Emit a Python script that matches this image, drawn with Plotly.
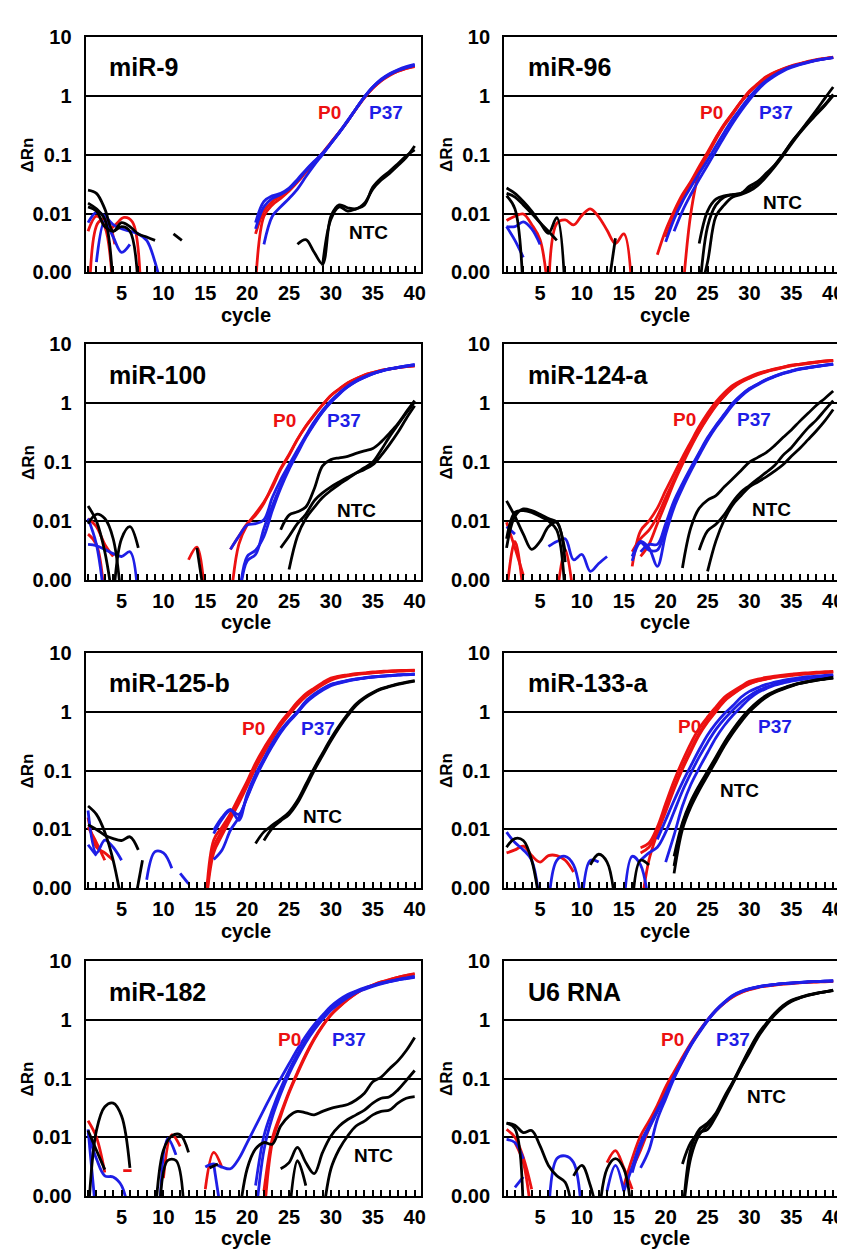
import math
import plotly.graph_objects as go

# ---------------- data ----------------
# each curve: (first cycle, [dRn values at consecutive cycles])
PANELS = ["miR-9", "miR-96", "miR-100", "miR-124-a", "miR-125-b", "miR-133-a", "miR-182", "U6 RNA"]
Y_TICKS = [10, 1, 0.1, 0.01, 0.001]
Y_TICK_TEXT = ["10", "1", "0.1", "0.01", "0.00"]

mir9_p0 = [
    (21, [0.0006, 0.009, 0.014, 0.018, 0.024, 0.034, 0.05, 0.072, 0.105, 0.16, 0.24, 0.37, 0.6, 0.93, 1.35, 1.8, 2.25, 2.6, 2.9, 3.1]),
    (21, [0.0045, 0.011, 0.016, 0.02, 0.026, 0.036, 0.052, 0.074, 0.107, 0.16, 0.24, 0.37, 0.59, 0.92, 1.33, 1.78, 2.2, 2.6, 2.9, 3.2]),
    (1, [0.005, 0.009, 0.006, 0.0004]),
    (1.2, [0.0006, 0.007, 0.008, 0.003]),
    (3.3, [0.0048, 0.0065, 0.0086, 0.0072, 0.0004]),
]
mir9_p37 = [
    (21, [0.007, 0.016, 0.02, 0.022, 0.027, 0.038, 0.055, 0.077, 0.105, 0.155, 0.235, 0.37, 0.6, 0.95, 1.4, 1.85, 2.3, 2.7, 3.0, 3.3]),
    (21, [0.0055, 0.013, 0.018, 0.021, 0.026, 0.036, 0.053, 0.075, 0.104, 0.155, 0.235, 0.37, 0.6, 0.94, 1.38, 1.83, 2.28, 2.68, 3.0, 3.3]),
    (22, [0.003, 0.009, 0.013, 0.018, 0.026, 0.042, 0.066, 0.1, 0.155, 0.24, 0.38, 0.6, 0.95, 1.4, 1.9, 2.35, 2.75, 3.1, 3.4]),
    (1, [0.007, 0.0105, 0.009, 0.0065, 0.0055, 0.005, 0.0045, 0.0035, 0.0015, 0.0004]),
    (2, [0.0015, 0.0075, 0.004, 0.0022, 0.003]),
]
mir9_ntc = [
    (26, [0.003, 0.0036, 0.0022, 0.0014, 0.009, 0.014, 0.0125, 0.012, 0.015, 0.026, 0.037, 0.048, 0.065, 0.09, 0.14]),
    (29, [0.0013, 0.008, 0.013, 0.011, 0.012, 0.014, 0.028, 0.04, 0.052, 0.07, 0.095, 0.12]),
    (1, [0.025, 0.022, 0.012, 0.005, 0.007, 0.006, 0.0045, 0.004, 0.0035]),
    (1, [0.015, 0.012, 0.008, 0.0005]),
    (1, [0.013, 0.011, 0.006, 0.005, 0.006, 0.005, 0.0005]),
    (11.2, [0.0045, 0.0035]),
]

mir96_p0 = [
    (19, [0.002, 0.0052, 0.011, 0.021, 0.035, 0.063, 0.11, 0.195, 0.33, 0.51, 0.8, 1.2, 1.6, 2.1, 2.5, 2.85, 3.2, 3.5, 3.8, 4.1, 4.3, 4.5]),
    (20, [0.004, 0.009, 0.018, 0.032, 0.058, 0.1, 0.18, 0.31, 0.49, 0.78, 1.15, 1.55, 2.05, 2.45, 2.8, 3.15, 3.45, 3.75, 4.0, 4.25, 4.45]),
    (22, [0.0004, 0.01, 0.05, 0.1, 0.19, 0.32, 0.5, 0.78, 1.15, 1.55, 2.0, 2.4, 2.8, 3.15, 3.45, 3.75, 4.0, 4.25, 4.45]),
    (1, [0.0076, 0.009, 0.0098, 0.0065, 0.0036, 0.0004]),
    (6, [0.0004, 0.0068, 0.0078, 0.0064, 0.0093, 0.012, 0.0088, 0.0052, 0.0031, 0.0045, 0.0004]),
]
mir96_p37 = [
    (20, [0.0033, 0.008, 0.016, 0.028, 0.048, 0.08, 0.14, 0.24, 0.4, 0.62, 0.95, 1.35, 1.8, 2.25, 2.7, 3.1, 3.4, 3.7, 4.0, 4.2, 4.4]),
    (21, [0.005, 0.011, 0.021, 0.038, 0.066, 0.115, 0.2, 0.34, 0.55, 0.85, 1.25, 1.7, 2.15, 2.6, 3.0, 3.35, 3.65, 3.95, 4.2, 4.4]),
    (1, [0.006, 0.006, 0.0072, 0.0055, 0.003]),
    (1, [0.006, 0.0035, 0.0018]),
]
mir96_ntc = [
    (24, [0.0031, 0.011, 0.0175, 0.02, 0.021, 0.022, 0.029, 0.035, 0.048, 0.066, 0.1, 0.16, 0.24, 0.37, 0.57, 0.9, 1.4]),
    (24, [0.0004, 0.006, 0.014, 0.019, 0.021, 0.022, 0.026, 0.032, 0.045, 0.065, 0.1, 0.16, 0.24, 0.35, 0.5, 0.7, 1.05]),
    (24, [0.0004, 0.0015, 0.009, 0.014, 0.019, 0.021, 0.024, 0.03, 0.042, 0.062, 0.095, 0.15, 0.23, 0.34, 0.48, 0.68, 1.0]),
    (1, [0.027, 0.022, 0.016, 0.011, 0.007, 0.0046, 0.0085, 0.0004]),
    (1, [0.02, 0.012, 0.0004]),
    (1, [0.022, 0.019, 0.014, 0.01, 0.007, 0.005, 0.0035]),
    (13, [0.0004, 0.0038]),
]

mir100_p0 = [
    (18, [0.0004, 0.004, 0.0086, 0.0134, 0.021, 0.037, 0.075, 0.13, 0.24, 0.4, 0.62, 0.93, 1.35, 1.73, 2.2, 2.6, 3.0, 3.3, 3.6, 3.8, 4.0, 4.15, 4.3]),
    (18, [0.0033, 0.0055, 0.009, 0.0125, 0.02, 0.04, 0.078, 0.135, 0.245, 0.41, 0.63, 0.94, 1.35, 1.75, 2.2, 2.6, 3.0, 3.3, 3.6, 3.8, 4.0, 4.15, 4.3]),
    (1, [0.011, 0.008, 0.004, 0.0025]),
    (1, [0.006, 0.004, 0.0004]),
    (13, [0.0022, 0.0036, 0.0004]),
]
mir100_p37 = [
    (18, [0.0033, 0.0055, 0.0085, 0.009, 0.0105, 0.025, 0.05, 0.09, 0.16, 0.28, 0.48, 0.75, 1.1, 1.5, 1.95, 2.4, 2.8, 3.2, 3.5, 3.8, 4.0, 4.2, 4.4]),
    (19, [0.0004, 0.0021, 0.0027, 0.0075, 0.018, 0.04, 0.08, 0.15, 0.27, 0.45, 0.72, 1.05, 1.45, 1.9, 2.35, 2.75, 3.15, 3.5, 3.8, 4.05, 4.3, 4.5]),
    (19, [0.0004, 0.0025, 0.0032, 0.0055, 0.015, 0.036, 0.075, 0.14, 0.26, 0.44, 0.7, 1.03, 1.42, 1.88, 2.33, 2.73, 3.13, 3.48, 3.78, 4.03, 4.28, 4.48]),
    (1, [0.011, 0.004, 0.0004]),
    (1, [0.004, 0.0038, 0.0033, 0.0028, 0.0025, 0.003, 0.0004]),
]
mir100_ntc = [
    (24, [0.0071, 0.0126, 0.0143, 0.0173, 0.035, 0.086, 0.11, 0.118, 0.125, 0.14, 0.155, 0.17, 0.22, 0.31, 0.45, 0.71, 1.1]),
    (24, [0.0035, 0.0055, 0.009, 0.013, 0.022, 0.03, 0.038, 0.046, 0.055, 0.065, 0.075, 0.09, 0.13, 0.2, 0.32, 0.55, 0.9]),
    (25, [0.0015, 0.0055, 0.011, 0.017, 0.025, 0.033, 0.042, 0.052, 0.065, 0.08, 0.1, 0.16, 0.27, 0.43, 0.68, 1.05]),
    (1, [0.018, 0.01, 0.003, 0.0004]),
    (1, [0.009, 0.013, 0.011, 0.005, 0.0004]),
    (4, [0.0004, 0.005, 0.008, 0.0035]),
    (14, [0.0035, 0.0004]),
]

mir124_p0 = [
    (16, [0.0017, 0.0068, 0.01, 0.0165, 0.033, 0.063, 0.12, 0.22, 0.4, 0.67, 1.05, 1.5, 2.0, 2.4, 2.8, 3.2, 3.5, 3.8, 4.1, 4.4, 4.6, 4.8, 5.0, 5.2, 5.3]),
    (16, [0.003, 0.005, 0.007, 0.012, 0.025, 0.05, 0.1, 0.19, 0.34, 0.58, 0.92, 1.35, 1.85, 2.3, 2.7, 3.1, 3.45, 3.75, 4.05, 4.35, 4.55, 4.75, 4.95, 5.15, 5.3]),
    (17, [0.0025, 0.004, 0.009, 0.02, 0.045, 0.092, 0.18, 0.33, 0.56, 0.9, 1.32, 1.8, 2.25, 2.65, 3.05, 3.4, 3.7, 4.0, 4.3, 4.5, 4.7, 4.9, 5.1, 5.25]),
    (1, [0.0006, 0.0045, 0.0006]),
    (1, [0.0095, 0.0035, 0.0012]),
    (7, [0.0005, 0.0033, 0.0005]),
]
mir124_p37 = [
    (16, [0.0021, 0.0043, 0.0032, 0.0032, 0.0077, 0.02, 0.04, 0.076, 0.14, 0.25, 0.41, 0.63, 0.98, 1.35, 1.75, 2.1, 2.5, 2.85, 3.2, 3.5, 3.8, 4.0, 4.2, 4.4, 4.6]),
    (16, [0.0025, 0.0045, 0.0035, 0.0017, 0.006, 0.017, 0.036, 0.07, 0.13, 0.235, 0.39, 0.6, 0.93, 1.3, 1.7, 2.05, 2.45, 2.8, 3.15, 3.45, 3.75, 3.95, 4.15, 4.35, 4.55]),
    (17, [0.003, 0.004, 0.004, 0.009, 0.022, 0.043, 0.08, 0.145, 0.26, 0.42, 0.65, 1.0, 1.37, 1.77, 2.12, 2.52, 2.87, 3.22, 3.52, 3.82, 4.02, 4.22, 4.42, 4.62]),
    (1, [0.008, 0.006]),
    (6, [0.0037, 0.0045, 0.005, 0.0022, 0.0027, 0.0014, 0.0019, 0.0025]),
]
mir124_ntc = [
    (22, [0.0016, 0.0077, 0.0165, 0.0227, 0.027, 0.038, 0.052, 0.072, 0.1, 0.12, 0.145, 0.19, 0.26, 0.35, 0.49, 0.67, 0.92, 1.2, 1.6]),
    (24, [0.0032, 0.0068, 0.0088, 0.0128, 0.021, 0.031, 0.04, 0.052, 0.067, 0.087, 0.13, 0.175, 0.26, 0.38, 0.52, 0.76, 1.1]),
    (25, [0.0014, 0.0046, 0.0105, 0.0188, 0.027, 0.038, 0.046, 0.056, 0.07, 0.09, 0.125, 0.17, 0.24, 0.34, 0.5, 0.78]),
    (1, [0.022, 0.012, 0.006, 0.0033, 0.0045, 0.008, 0.0095, 0.002]),
    (1, [0.0035, 0.012, 0.016, 0.015, 0.013, 0.011, 0.0095, 0.003]),
    (1, [0.005, 0.014, 0.015, 0.014, 0.012, 0.01, 0.007, 0.0005]),
]

mir125_p0 = [
    (15, [0.0004, 0.0066, 0.011, 0.0185, 0.035, 0.066, 0.134, 0.24, 0.4, 0.66, 0.98, 1.45, 2.0, 2.5, 3.1, 3.7, 4.0, 4.2, 4.4, 4.55, 4.7, 4.8, 4.9, 4.95, 5.0, 5.05]),
    (15, [0.0004, 0.004, 0.008, 0.015, 0.028, 0.055, 0.11, 0.2, 0.35, 0.58, 0.88, 1.3, 1.8, 2.3, 2.85, 3.4, 3.8, 4.05, 4.25, 4.4, 4.55, 4.65, 4.75, 4.85, 4.9, 4.95]),
    (15, [0.0004, 0.005, 0.0095, 0.017, 0.032, 0.06, 0.12, 0.22, 0.37, 0.62, 0.93, 1.38, 1.9, 2.4, 2.95, 3.55, 3.9, 4.1, 4.3, 4.45, 4.6, 4.7, 4.8, 4.9, 4.95, 5.0]),
    (1, [0.016, 0.005, 0.004, 0.003]),
    (1, [0.011, 0.006, 0.003]),
]
mir125_p37 = [
    (16, [0.0097, 0.016, 0.022, 0.0143, 0.04, 0.086, 0.16, 0.29, 0.48, 0.71, 1.0, 1.5, 1.97, 2.45, 2.9, 3.15, 3.4, 3.6, 3.75, 3.9, 4.0, 4.1, 4.2, 4.25, 4.3]),
    (16, [0.0031, 0.0045, 0.0097, 0.016, 0.035, 0.075, 0.145, 0.26, 0.44, 0.67, 0.95, 1.4, 1.85, 2.3, 2.75, 3.05, 3.3, 3.5, 3.68, 3.83, 3.95, 4.05, 4.15, 4.22, 4.3]),
    (16, [0.0085, 0.015, 0.021, 0.018, 0.036, 0.08, 0.15, 0.275, 0.46, 0.69, 0.98, 1.45, 1.92, 2.4, 2.85, 3.1, 3.35, 3.55, 3.7, 3.85, 3.98, 4.08, 4.18, 4.25, 4.32]),
    (1, [0.021, 0.004, 0.0066, 0.005, 0.003]),
    (1, [0.0055, 0.0036]),
    (8, [0.0014, 0.0042, 0.004, 0.0022]),
    (12, [0.0018, 0.0012]),
]
mir125_ntc = [
    (21, [0.0058, 0.0091, 0.0118, 0.015, 0.0197, 0.031, 0.058, 0.11, 0.197, 0.35, 0.58, 0.91, 1.34, 1.74, 2.1, 2.45, 2.7, 2.95, 3.15, 3.35]),
    (22, [0.0065, 0.0105, 0.014, 0.018, 0.028, 0.052, 0.1, 0.18, 0.32, 0.54, 0.85, 1.27, 1.68, 2.05, 2.4, 2.65, 2.9, 3.1, 3.3]),
    (1, [0.025, 0.018, 0.009, 0.003, 0.0006]),
    (1, [0.012, 0.01, 0.008, 0.007, 0.0065, 0.0075, 0.0045]),
    (6.5, [0.0005, 0.003]),
]

mir133_p0 = [
    (17, [0.0049, 0.0059, 0.011, 0.0275, 0.067, 0.145, 0.29, 0.52, 0.81, 1.2, 1.75, 2.2, 2.7, 3.25, 3.55, 3.8, 4.0, 4.15, 4.3, 4.45, 4.55, 4.65, 4.75, 4.8]),
    (17, [0.004, 0.005, 0.009, 0.022, 0.052, 0.115, 0.23, 0.43, 0.7, 1.05, 1.55, 2.0, 2.5, 3.0, 3.35, 3.6, 3.85, 4.0, 4.15, 4.3, 4.42, 4.52, 4.62, 4.7]),
    (17, [0.0004, 0.003, 0.0085, 0.02, 0.048, 0.105, 0.21, 0.4, 0.66, 1.0, 1.5, 1.95, 2.45, 2.95, 3.3, 3.55, 3.8, 3.95, 4.1, 4.25, 4.38, 4.5, 4.6, 4.68]),
    (1, [0.004, 0.0045, 0.0052, 0.0036, 0.0028, 0.0036, 0.0036, 0.003, 0.0019]),
]
mir133_p37 = [
    (19, [0.0068, 0.0145, 0.031, 0.063, 0.12, 0.225, 0.4, 0.63, 0.92, 1.25, 1.75, 2.2, 2.55, 2.9, 3.15, 3.4, 3.6, 3.75, 3.9, 4.0, 4.1, 4.2]),
    (17, [0.003, 0.004, 0.005, 0.009, 0.02, 0.045, 0.09, 0.17, 0.3, 0.5, 0.75, 1.05, 1.45, 1.85, 2.25, 2.6, 2.9, 3.15, 3.35, 3.5, 3.65, 3.8, 3.95, 4.1]),
    (20, [0.0028, 0.008, 0.025, 0.058, 0.11, 0.2, 0.36, 0.58, 0.86, 1.2, 1.65, 2.1, 2.45, 2.8, 3.05, 3.3, 3.5, 3.65, 3.8, 3.95, 4.1]),
    (1, [0.009, 0.006, 0.0045, 0.003, 0.0005]),
    (6, [0.0005, 0.003, 0.0035, 0.0025, 0.0005]),
    (10, [0.0005, 0.003, 0.0028]),
    (15, [0.0005, 0.0035, 0.0025, 0.0005]),
]
mir133_ntc = [
    (21, [0.0018, 0.01, 0.024, 0.046, 0.082, 0.145, 0.26, 0.43, 0.67, 0.99, 1.35, 1.75, 2.1, 2.4, 2.7, 3.0, 3.2, 3.4, 3.55, 3.7]),
    (21, [0.0024, 0.012, 0.028, 0.052, 0.09, 0.16, 0.28, 0.46, 0.72, 1.05, 1.42, 1.82, 2.15, 2.45, 2.75, 3.02, 3.22, 3.42, 3.58, 3.75]),
    (21, [0.0035, 0.013, 0.03, 0.056, 0.097, 0.17, 0.3, 0.49, 0.76, 1.1, 1.48, 1.88, 2.2, 2.5, 2.8, 3.05, 3.25, 3.45, 3.6, 3.8]),
    (1, [0.005, 0.007, 0.0065, 0.003, 0.0005]),
    (11, [0.0025, 0.0038, 0.0028, 0.0005]),
    (16, [0.0005, 0.003, 0.0025]),
]

mir182_p0 = [
    (22, [0.0004, 0.0081, 0.0228, 0.0565, 0.121, 0.245, 0.46, 0.78, 1.2, 1.65, 2.2, 2.8, 3.4, 3.9, 4.4, 4.8, 5.3, 5.7, 6.1]),
    (22, [0.0012, 0.0095, 0.025, 0.06, 0.128, 0.26, 0.48, 0.8, 1.22, 1.68, 2.22, 2.82, 3.42, 3.92, 4.42, 4.82, 5.3, 5.7, 6.0]),
    (1, [0.019, 0.01, 0.0025]),
    (5.2, [0.0027, 0.0027]),
    (10, [0.002, 0.011, 0.007]),
    (15, [0.0013, 0.0055, 0.003]),
]
mir182_p37 = [
    (15, [0.0031, 0.0035, 0.0031, 0.0029, 0.0043, 0.0081, 0.0155, 0.0294, 0.056, 0.1, 0.178, 0.316, 0.53, 0.83, 1.2, 1.7, 2.2, 2.7, 3.1, 3.5, 3.85, 4.2, 4.5, 4.8, 5.05, 5.3]),
    (21, [0.0015, 0.0105, 0.029, 0.068, 0.138, 0.26, 0.45, 0.72, 1.1, 1.55, 2.0, 2.5, 3.0, 3.4, 3.8, 4.2, 4.55, 4.9, 5.2, 5.5]),
    (21, [0.0004, 0.006, 0.022, 0.055, 0.12, 0.23, 0.41, 0.67, 1.02, 1.45, 1.9, 2.4, 2.9, 3.3, 3.7, 4.1, 4.45, 4.8, 5.1, 5.4]),
    (1, [0.0136, 0.0004]),
    (1, [0.012, 0.0043, 0.0022, 0.0021, 0.0015, 0.0004]),
    (9.5, [0.0004, 0.0095, 0.005]),
    (16, [0.0035, 0.0004]),
]
mir182_ntc = [
    (19, [0.0004, 0.0029, 0.0063, 0.0081, 0.0076, 0.0155, 0.0229, 0.0275, 0.026, 0.024, 0.0275, 0.031, 0.0335, 0.036, 0.043, 0.056, 0.088, 0.106, 0.147, 0.2, 0.3, 0.5]),
    (24, [0.0029, 0.0037, 0.0067, 0.0037, 0.0024, 0.0055, 0.0105, 0.0155, 0.02, 0.024, 0.029, 0.038, 0.046, 0.049, 0.064, 0.093, 0.137]),
    (29, [0.0004, 0.0029, 0.0063, 0.0105, 0.0155, 0.0188, 0.024, 0.0275, 0.029, 0.038, 0.046, 0.049]),
    (25, [0.0004, 0.004, 0.0015]),
    (1, [0.0004, 0.013, 0.033, 0.038, 0.023, 0.003]),
    (1, [0.013, 0.006, 0.0028]),
    (9, [0.0004, 0.006, 0.0105, 0.011, 0.0055]),
    (9.5, [0.0004, 0.004, 0.004, 0.0004]),
    (15.5, [0.003, 0.0035]),
]

u6_p0 = [
    (15, [0.0015, 0.0043, 0.0105, 0.0187, 0.035, 0.072, 0.13, 0.23, 0.4, 0.65, 1.0, 1.45, 1.95, 2.5, 2.95, 3.3, 3.6, 3.8, 3.95, 4.1, 4.2, 4.3, 4.4, 4.45, 4.5, 4.55]),
    (16, [0.0029, 0.006, 0.014, 0.03, 0.062, 0.12, 0.22, 0.38, 0.63, 0.98, 1.43, 1.93, 2.45, 2.9, 3.25, 3.55, 3.75, 3.9, 4.05, 4.15, 4.25, 4.35, 4.4, 4.45, 4.5]),
    (1, [0.0136, 0.01, 0.0045, 0.0013]),
    (2, [0.0081, 0.0037, 0.0004]),
    (13, [0.0037, 0.0059, 0.003, 0.0013]),
]
u6_p37 = [
    (15, [0.0012, 0.0031, 0.0081, 0.0154, 0.029, 0.055, 0.11, 0.21, 0.38, 0.63, 1.0, 1.47, 2.0, 2.6, 3.05, 3.4, 3.65, 3.85, 4.0, 4.15, 4.25, 4.35, 4.45, 4.5, 4.55, 4.6]),
    (17, [0.003, 0.006, 0.02, 0.045, 0.1, 0.195, 0.36, 0.6, 0.96, 1.42, 1.95, 2.55, 3.0, 3.35, 3.62, 3.82, 3.98, 4.12, 4.22, 4.32, 4.42, 4.48, 4.55, 4.6]),
    (16, [0.0025, 0.007, 0.014, 0.027, 0.052, 0.105, 0.2, 0.37, 0.62, 0.98, 1.45, 1.98, 2.55, 3.0, 3.38, 3.63, 3.83, 3.99, 4.13, 4.23, 4.33, 4.43, 4.5, 4.55, 4.6]),
    (1, [0.0092, 0.0081, 0.0043]),
    (2, [0.0014, 0.0021]),
    (6, [0.0004, 0.0043, 0.0048, 0.0037, 0.0004]),
    (13, [0.0012, 0.0033, 0.0012]),
]
u6_ntc = [
    (22, [0.0004, 0.0063, 0.0135, 0.0174, 0.0258, 0.0487, 0.087, 0.166, 0.315, 0.56, 0.87, 1.28, 1.75, 2.15, 2.4, 2.65, 2.85, 3.0, 3.2]),
    (22, [0.0035, 0.0081, 0.0119, 0.0136, 0.0227, 0.043, 0.081, 0.155, 0.275, 0.5, 0.8, 1.2, 1.65, 2.05, 2.35, 2.6, 2.8, 2.98, 3.15]),
    (22, [0.0004, 0.0045, 0.011, 0.016, 0.024, 0.046, 0.084, 0.16, 0.3, 0.53, 0.84, 1.24, 1.7, 2.1, 2.38, 2.62, 2.82, 2.99, 3.18]),
    (1, [0.0174, 0.016, 0.012, 0.013, 0.0071, 0.0033, 0.0022, 0.0017, 0.0004]),
    (1, [0.0174, 0.014, 0.0004]),
    (9, [0.0022, 0.0033, 0.0015, 0.0004]),
    (12, [0.0004, 0.0029, 0.0043, 0.0029, 0.0004]),
]

P0_CURVES = [mir9_p0, mir96_p0, mir100_p0, mir124_p0, mir125_p0, mir133_p0, mir182_p0, u6_p0]
P37_CURVES = [mir9_p37, mir96_p37, mir100_p37, mir124_p37, mir125_p37, mir133_p37, mir182_p37, u6_p37]
NTC_CURVES = [mir9_ntc, mir96_ntc, mir100_ntc, mir124_ntc, mir125_ntc, mir133_ntc, mir182_ntc, u6_ntc]

# label anchor points (cycle, dRn) for P0, P37, NTC
LABEL_POS = [
    [(29.8, 0.51), (36.6, 0.51), (34.5, 0.0048)],
    [(25.5, 0.51), (33.2, 0.51), (34.0, 0.0154)],
    [(24.5, 0.51), (31.6, 0.51), (33.0, 0.0152)],
    [(22.2, 0.52), (30.6, 0.52), (32.6, 0.0155)],
    [(20.7, 0.51), (28.4, 0.51), (29.0, 0.0163)],
    [(22.9, 0.55), (33.0, 0.55), (28.8, 0.046)],
    [(25.1, 0.47), (32.2, 0.47), (35.1, 0.0049)],
    [(20.8, 0.46), (28.0, 0.46), (32.0, 0.049)],
]

# ---------------- styling / layout ----------------
W, H = 845, 1249
FONT = "Liberation Sans, Arial, Helvetica, sans-serif"
RED = "#ec1111"
BLUE = "#1e1ee6"
BLACK = "#000000"
COL_X = [(78, 415), (499, 836)]
ROW_Y = [(18, 258), (331, 571), (645, 885), (959, 1198)]

fig = go.Figure()
annotations = []

for i, name in enumerate(PANELS):
    r, c = divmod(i, 2)
    n = i + 1
    xa = "x" if n == 1 else f"x{n}"
    ya = "y" if n == 1 else f"y{n}"
    for curves, color in ((P0_CURVES[i], RED), (P37_CURVES[i], BLUE), (NTC_CURVES[i], BLACK)):
        for start, vals in curves:
            xs = [start + k for k in range(len(vals))]
            fig.add_trace(go.Scatter(
                x=xs, y=vals, mode="lines", xaxis=xa, yaxis=ya,
                line=dict(color=color, width=2.8, shape="spline", smoothing=1.0),
                showlegend=False, hoverinfo="skip"))
    x0, x1 = COL_X[c]
    yt, yb = ROW_Y[r]
    axis_font = dict(family=FONT, size=20, color="black", weight="bold")
    fig.layout[("xaxis" if n == 1 else f"xaxis{n}")] = dict(
        domain=[x0 / W, x1 / W], anchor=ya, range=[0.7, 40.7],
        tickmode="linear", tick0=0, dtick=5,
        ticks="inside", ticklen=6, tickwidth=1.5, tickcolor="black",
        minor=dict(tickmode="linear", tick0=0, dtick=1, ticks="inside", ticklen=6, tickwidth=1.5, tickcolor="black"),
        showgrid=False, zeroline=False, showline=True, mirror=True, linecolor="black", linewidth=2,
        tickfont=axis_font, ticklabelstandoff=2, ticklabeloverflow="allow", fixedrange=True)
    fig.layout[("yaxis" if n == 1 else f"yaxis{n}")] = dict(
        domain=[1 - yb / H, 1 - yt / H], anchor=xa, type="log", range=[-3, 1],
        tickmode="array", tickvals=Y_TICKS, ticktext=Y_TICK_TEXT, ticks="",
        showgrid=True, gridcolor="black", gridwidth=1.5, zeroline=False,
        showline=True, mirror=True, linecolor="black", linewidth=2,
        tickfont=axis_font, ticklabelstandoff=8, ticklabeloverflow="allow", fixedrange=True)

    xd = f"{xa} domain"
    yd = f"{ya} domain"
    annotations.append(dict(text=name, xref=xd, yref=yd, x=0.065, y=0.87, xanchor="left", yanchor="middle",
                            showarrow=False, font=dict(family=FONT, size=25, color="black", weight="bold")))
    annotations.append(dict(text="ΔRn", xref=xd, yref=yd, x=-0.172, y=0.5, xanchor="center", yanchor="middle",
                            textangle=-90, showarrow=False, font=dict(family=FONT, size=17, color="black", weight="bold")))
    annotations.append(dict(text="cycle", xref=xd, yref=yd, x=0.48, y=-0.18, xanchor="center", yanchor="middle",
                            showarrow=False, font=dict(family=FONT, size=20, color="black", weight="bold")))
    for (lx, ly), txt, col in zip(LABEL_POS[i], ("P0", "P37", "NTC"), (RED, BLUE, BLACK)):
        annotations.append(dict(text=txt, xref=xa, yref=ya, x=lx, y=math.log10(ly), xanchor="center", yanchor="middle",
                                showarrow=False, font=dict(family=FONT, size=19, color=col, weight="bold")))

fig.update_layout(width=W, height=H, margin=dict(l=0, r=0, t=0, b=0),
                  paper_bgcolor="white", plot_bgcolor="white", annotations=annotations, showlegend=False)
fig.write_html("out.html")
